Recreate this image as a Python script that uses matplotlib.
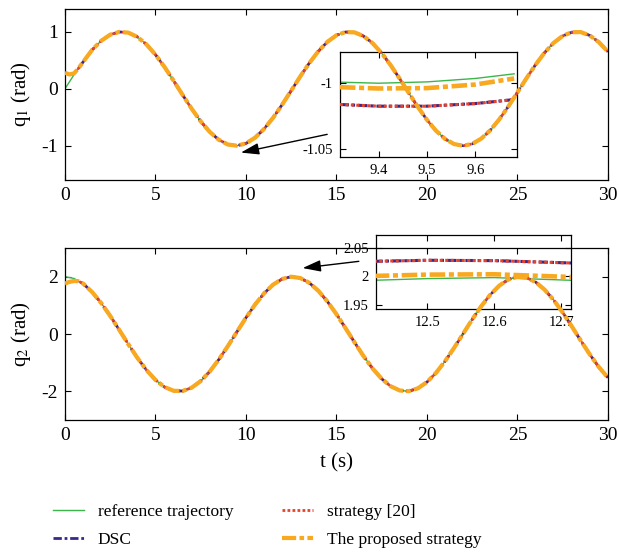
import numpy as np
import matplotlib
matplotlib.use("Agg")
import matplotlib.pyplot as plt

plt.rcParams['font.family'] = ['Liberation Serif', 'DejaVu Serif']
plt.rcParams['mathtext.fontset'] = 'stix'
plt.rcParams['axes.unicode_minus'] = False

# time grid of the main panels (0.5 s steps)
t = np.arange(0, 30.01, 0.5)

# reference trajectories
q1_ref = [0.000, 0.247, 0.479, 0.682, 0.841, 0.949, 0.997, 0.984, 0.909, 0.778,
          0.598, 0.382, 0.141, -0.108, -0.351, -0.572, -0.757, -0.895, -0.978, -0.999,
          -0.959, -0.859, -0.706, -0.509, -0.279, -0.033, 0.215, 0.450, 0.657, 0.823,
          0.938, 0.995, 0.989, 0.923, 0.799, 0.625, 0.412, 0.174, -0.075, -0.320,
          -0.544, -0.735, -0.880, -0.970, -1.000, -0.968, -0.876, -0.729, -0.537, -0.311,
          -0.066, 0.183, 0.420, 0.632, 0.804, 0.926, 0.991, 0.994, 0.935, 0.818, 0.650]
q2_ref = [2.000, 1.938, 1.755, 1.463, 1.081, 0.631, 0.141, -0.356, -0.832, -1.256,
          -1.602, -1.849, -1.980, -1.988, -1.873, -1.641, -1.307, -0.892, -0.422, 0.075,
          0.567, 1.024, 1.417, 1.722, 1.920, 1.999, 1.953, 1.786, 1.508, 1.136,
          0.693, 0.207, -0.291, -0.772, -1.204, -1.562, -1.822, -1.970, -1.994, -1.895,
          -1.678, -1.357, -0.951, -0.486, 0.009, 0.504, 0.967, 1.370, 1.688, 1.901,
          1.996, 1.966, 1.815, 1.550, 1.190, 0.755, 0.273, -0.226, -0.710, -1.151, -1.519]

# start-up transient of the controllers (they follow the reference after ~1 s)
t_start = [0.0, 0.25, 0.5, 0.75, 1.0]
q1_start = [0.28, 0.25, 0.27, 0.36, 0.47]
q2_start = [1.76, 1.82, 1.85, 1.84, 1.76]

# zoomed values shown in the insets
ins1_t = [9.32, 9.4, 9.5, 9.6, 9.68]
ins1_ref = [-0.9995, -1.0003, -0.9993, -0.9967, -0.9932]
ins1_dsc = [-1.0164, -1.0177, -1.0177, -1.0157, -1.0127]
ins1_str = [-1.0164, -1.0177, -1.0177, -1.0157, -1.0127]
ins1_prop = [-1.0033, -1.0043, -1.0040, -1.0013, -0.9967]

ins2_t = [12.42, 12.5, 12.6, 12.715]
ins2_ref = [1.993, 1.996, 1.9977, 1.993]
ins2_dsc = [2.0261, 2.0279, 2.0273, 2.0232]
ins2_str = [2.0261, 2.0279, 2.0273, 2.0232]
ins2_prop = [2.0006, 2.0029, 2.0035, 1.9988]

labels = ['reference trajectory', 'DSC', 'strategy [20]', 'The proposed strategy']

GREEN = '#3cb64b'
BLUE = '#35298a'
RED = '#e8412c'
ORANGE = '#f8a920'


def draw_lines(ax, tt, ref, tc, dsc, strat, prop, scale=1.0):
    ax.plot(tt, ref, color=GREEN, lw=1.0, zorder=2)
    ax.plot(tc, dsc, color=BLUE, lw=2.0 * scale, dashes=[3, 1, 1, 1], zorder=3)
    ax.plot(tc, strat, color=RED, lw=2.0 * scale, dashes=[1, 0.8], zorder=4)
    ax.plot(tc, prop, color=ORANGE, lw=3.0 * scale, dashes=[3.4, 0.8, 1.1, 0.8], zorder=5)


def style_axes(ax, size):
    ax.tick_params(direction='in', top=True, right=True, length=4, labelsize=size,
                   width=0.8, pad=5)
    for s in ax.spines.values():
        s.set_linewidth(0.9)


fig = plt.figure(figsize=(6.19, 5.52), dpi=100)

ax1 = fig.add_axes([0.105, 0.674, 0.877, 0.3098], zorder=2)
ax2 = fig.add_axes([0.105, 0.2391, 0.877, 0.3116], zorder=2)
in1 = fig.add_axes([0.549, 0.716, 0.2855, 0.189], zorder=1)
in2 = fig.add_axes([0.607, 0.4397, 0.315, 0.1346], zorder=1)
for a in (ax1, ax2, in1, in2):
    a.set_facecolor('none')

tc = np.concatenate([t_start, t[3:]])
q1_ctrl = np.concatenate([q1_start, q1_ref[3:]])
q2_ctrl = np.concatenate([q2_start, q2_ref[3:]])

draw_lines(ax1, t, q1_ref, tc, q1_ctrl, q1_ctrl, q1_ctrl)
draw_lines(ax2, t, q2_ref, tc, q2_ctrl, q2_ctrl, q2_ctrl)

for ax in (ax1, ax2):
    ax.set_xlim(0, 30)
    ax.set_xticks([0, 5, 10, 15, 20, 25, 30])
    style_axes(ax, 14)

ax1.set_ylim(-1.6, 1.4)
ax1.set_yticks([-1, 0, 1])
ax1.set_ylabel('q$_1$ (rad)', fontsize=15, labelpad=6)
ax2.set_ylim(-3, 3)
ax2.set_yticks([-2, 0, 2])
ax2.set_ylabel('q$_2$ (rad)', fontsize=15, labelpad=6)
ax2.set_xlabel('t (s)', fontsize=15, labelpad=7)

# insets
draw_lines(in1, ins1_t, ins1_ref, ins1_t, ins1_dsc, ins1_str, ins1_prop, scale=1.1)
in1.set_xlim(9.32, 9.685)
in1.set_ylim(-1.056, -0.977)
in1.set_xticks([9.4, 9.5, 9.6])
in1.set_yticks([-1.05, -1])
in1.set_yticklabels(['-1.05', '-1'])
style_axes(in1, 10.5)

draw_lines(in2, ins2_t, ins2_ref, ins2_t, ins2_dsc, ins2_str, ins2_prop, scale=1.1)
in2.set_xlim(12.423, 12.714)
in2.set_ylim(1.9425, 2.072)
in2.set_xticks([12.5, 12.6, 12.7])
in2.set_yticks([1.95, 2, 2.05])
in2.set_yticklabels(['1.95', '2', '2.05'])
style_axes(in2, 10.5)

arrow = dict(arrowstyle='-|>,head_length=1.1,head_width=0.35', color='black', lw=1.0)
ax1.annotate('', xy=(9.57, -1.13), xytext=(14.64, -0.79), arrowprops=arrow)
ax2.annotate('', xy=(12.98, 2.29), xytext=(16.39, 2.547), arrowprops=arrow)

# legend built from the line handles of the top panel
handles = ax1.get_lines()
fig.legend(handles, labels, ncol=2, loc='upper left', bbox_to_anchor=(0.085, 0.087),
           frameon=False, fontsize=12.5, handlelength=1.8, handletextpad=0.8,
           columnspacing=2.8, labelspacing=0.7, borderpad=0, borderaxespad=0)

fig.savefig('out.png', dpi=100)
